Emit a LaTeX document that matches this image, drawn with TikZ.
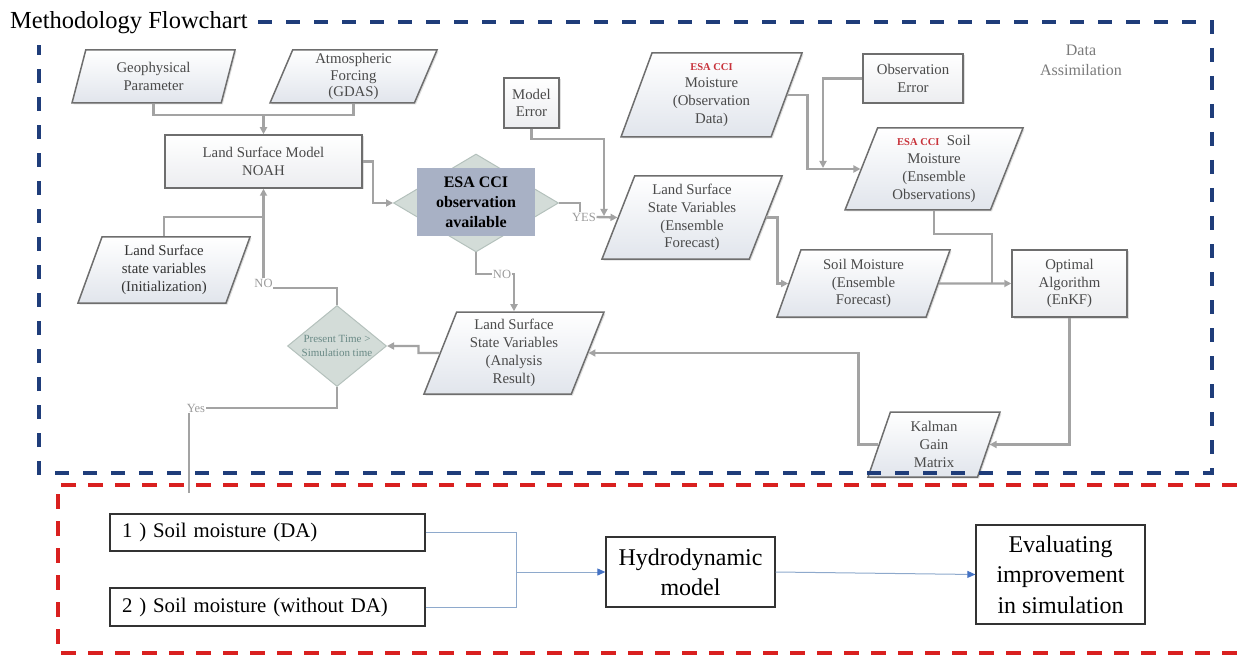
\documentclass[tikz,border=0pt]{standalone}
\usepackage{fontspec}
\setmainfont{Liberation Serif}
\usetikzlibrary{shapes.geometric,arrows.meta,shadows,calc}
\definecolor{dablue}{HTML}{1F3D7A}
\definecolor{dared}{HTML}{D9201F}
\definecolor{conn}{HTML}{A3A3A3}
\definecolor{boxdraw}{HTML}{6E6E6E}
\definecolor{boxtxt}{HTML}{4A4A4A}
\definecolor{pfill}{HTML}{E1E5EC}
\definecolor{gfill}{HTML}{ECEDF0}
\definecolor{dfill}{HTML}{D3DCD8}
\definecolor{ddraw}{HTML}{B4C1BC}
\definecolor{rfill}{HTML}{A8B1C5}
\definecolor{ptxt}{HTML}{6A8A86}
\definecolor{esared}{HTML}{C8323A}
\definecolor{bconn}{HTML}{8EA9CC}
\definecolor{barrow}{HTML}{4472C4}
\definecolor{datxt}{HTML}{7A7A7A}
\definecolor{lbltxt}{HTML}{9A9A9A}
\newcommand{\esatag}{{\color{esared}\fontsize{10.5}{12}\selectfont\bfseries ESA CCI}}
\tikzset{
  gbox/.style={rectangle, draw=boxdraw, line width=1.5pt, top color=white, bottom color=gfill,
    drop shadow={opacity=0.25, shadow xshift=1.5pt, shadow yshift=-1.5pt},
    text=boxtxt, align=center, inner sep=0pt, font=\fontsize{14.8}{17.5}\selectfont},
  para/.style={trapezium, trapezium left angle=64, trapezium right angle=116,
    trapezium stretches body, draw=boxdraw, line width=1.5pt, top color=white, bottom color=pfill,
    drop shadow={opacity=0.25, shadow xshift=1.5pt, shadow yshift=-1.5pt},
    text=boxtxt, align=center, inner sep=0pt, font=\fontsize{14.8}{17.8}\selectfont},
  ln/.style={draw=conn, line width=2.4pt},
  arr/.style={ln, -{Triangle[length=7pt,width=7pt]}},
  lbl/.style={text=lbltxt, inner sep=0.5pt, font=\fontsize{12.5}{14}\selectfont},
  wbox/.style={rectangle, draw=black!80, line width=1.3pt, fill=white, inner sep=0pt, align=center},
  bline/.style={draw=bconn, line width=1pt},
  barr/.style={bline, -{Triangle[length=8pt,width=7pt,color=barrow]}},
}
\begin{document}
\begin{tikzpicture}[x=1pt,y=-1pt]
\useasboundingbox (0,0) rectangle (1237,655);

% title
\node[anchor=base west, inner sep=0pt, font=\fontsize{24.5}{28}\selectfont] (title) at (10,29) {Methodology Flowchart};
\node[text=datxt, align=center, font=\fontsize{16}{20}\selectfont] (da) at (1081,60) {Data\\Assimilation};

% upper nodes
\node[para, minimum width=163pt, minimum height=53pt] (geo) at (153.5,76.5) {Geophysical\\Parameter};
\node[para, minimum width=167pt, minimum height=53pt, font=\fontsize{14.8}{16.5}\selectfont] (atm) at (353.5,76.5) {Atmospheric\\Forcing\\(GDAS)};
\node[gbox, minimum width=197pt, minimum height=53pt] (noah) at (263.5,161.5) {Land Surface Model\\NOAH};
\node[para, minimum width=172pt, minimum height=66pt, text=black!80] (init) at (164,270) {Land Surface\\state variables\\(Initialization)};
\node[diamond, fill=dfill, draw=ddraw, line width=1pt, minimum width=165pt, minimum height=98pt, inner sep=0pt] (esaD) at (476,203) {};
\node[rectangle, fill=rfill, minimum width=118pt, minimum height=68pt, inner sep=0pt, align=center, font=\fontsize{16}{20}\selectfont\bfseries] (esaR) at (476,202) {ESA CCI\\observation\\available};
\node[gbox, minimum width=55pt, minimum height=50pt] (merr) at (531.5,103) {Model\\Error};
\node[para, minimum width=180pt, minimum height=83pt] (lssv) at (692,217.5) {Land Surface\\State Variables\\(Ensemble\\Forecast)};
\node[para, minimum width=181pt, minimum height=84pt] (obs) at (711.5,95) {\esatag\\Moisture\\(Observation\\Data)};
\node[gbox, minimum width=100pt, minimum height=49pt] (oerr) at (913,78.5) {Observation\\Error};
\node[para, minimum width=178pt, minimum height=82pt] (eobs) at (934,169) {\esatag\enspace Soil\\Moisture\\(Ensemble\\Observations)};
\node[para, minimum width=173pt, minimum height=67pt] (smef) at (863.5,283.5) {Soil Moisture\\(Ensemble\\Forecast)};
\node[gbox, minimum width=115pt, minimum height=67pt] (opt) at (1069.5,283.5) {Optimal\\Algorithm\\(EnKF)};
\node[para, minimum width=132pt, minimum height=65pt] (kal) at (934,444.5) {Kalman\\Gain\\Matrix};
\node[para, minimum width=180pt, minimum height=82pt] (ana) at (514,353) {Land Surface\\State Variables\\(Analysis\\Result)};
\node[diamond, fill=dfill, draw=ddraw, line width=1pt, aspect=1.22, minimum width=99pt, minimum height=81pt, inner sep=0pt, align=center, text=ptxt, font=\fontsize{11}{14}\selectfont] (pt) at (337,346) {Present Time >\\Simulation time};

% labels
\node[lbl] (yesl) at (584,217) {YES};
\node[lbl] (no1) at (263.5,283) {NO};
\node[lbl] (no2) at (502,274) {NO};
\node[lbl] (yesb) at (196,408) {Yes};

% upper connectors
\coordinate (j1) at (263.5,115);
\draw[ln] (geo.south) |- (j1) -| (atm.south);
\draw[arr] (j1) -- (noah.north);
\coordinate (j0) at (263.5,217);
\draw[arr] (init.north) |- (j0) -- (noah.south);
\draw[ln] (pt.north) |- (no1.south east);
\draw[ln] (no1.north) -- (j0);
\draw[arr] (noah.east) -- ++(10,0) |- (esaD.west);
\draw[ln] (esaD.east) -| ([xshift=-4pt]yesl.north);
\draw[arr] (yesl.east) -- (lssv.west);
\coordinate (mej) at (604,216);
\draw[arr] (merr.south) -- ++(0,10) -| (mej);
\draw[ln] (esaD.south) |- (no2.west);
\draw[arr] (no2.east) -| (ana.north);
\draw[ln] (pt.south) |- (yesb.east);
\coordinate (yend) at (189,493);
\draw[ln] (yend |- yesb.south) -- (yend);
\draw[arr] (ana.west) -- ++(-21,0) -- ++(0,-7) -- (pt.east);
\draw[arr] (kal.west) -- ++(-20,0) |- (ana.east);
\draw[arr] (opt.south) |- (kal.east);
\draw[arr] (smef.east) -- (opt.west);
\coordinate (j2) at (992,283.5);
\draw[ln] (eobs.south) -- ++(0,23) -| (j2);
\draw[arr] (lssv.east) -- ++(11,0) |- (smef.west);
\draw[arr] (obs.east) -- ++(20,0) |- (eobs.west);
\coordinate (j3) at (823,168);
\draw[arr] (oerr.west) -| (j3);

% lower part
\node[wbox, minimum height=37pt, text width=291pt, inner xsep=12pt, align=left, font=\fontsize{20.8}{24}\selectfont] (b1) at (267.5,532.5) {1 ) Soil moisture (DA)};
\node[wbox, minimum height=38pt, text width=291pt, inner xsep=12pt, align=left, font=\fontsize{20.8}{24}\selectfont] (b2) at (267.5,607) {2 ) Soil moisture (without DA)};
\node[wbox, minimum width=169pt, minimum height=70pt, font=\fontsize{24}{30}\selectfont] (hydro) at (690.5,572) {Hydrodynamic\\model};
\node[wbox, minimum width=169pt, minimum height=99pt, font=\fontsize{24}{30.5}\selectfont] (eval) at (1060.5,574.5) {Evaluating\\improvement\\in simulation};
\coordinate (bj) at (516,572);
\draw[bline] (b1.east) -| (bj);
\draw[bline] (b2.east) -| (bj);
\draw[barr] (bj) -- (hydro.west);
\draw[barr] (hydro.east) -- (eval.west);

% frames
\draw[dablue, line width=4pt, dash pattern=on 14pt off 14pt] (258,22) -- (1212,22) -- (1212,473) -- (39,473) -- (39,45);
\draw[dared, line width=4pt, dash pattern=on 15pt off 12pt] (1237,485) -- (58,485) -- (58,653) -- (1237,653);
\end{tikzpicture}
\end{document}
